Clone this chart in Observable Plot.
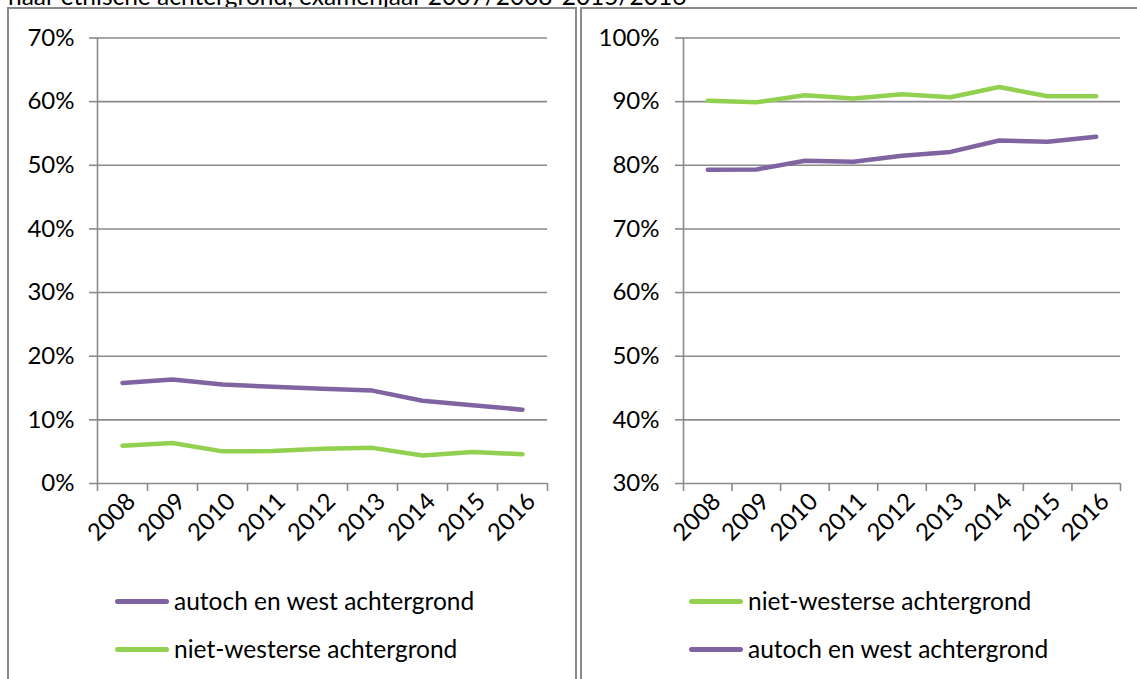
<!DOCTYPE html>
<html><head><meta charset="utf-8">
<script src="https://cdn.jsdelivr.net/npm/d3@7"></script>
<script src="https://cdn.jsdelivr.net/npm/@observablehq/plot@0.6"></script>
<style>
body{margin:0;background:#fff;font-family:Lato,sans-serif;}
#root{position:relative;width:1137px;height:679px;overflow:hidden;background:#fff;}
.box{position:absolute;border:2px solid #8a8a8a;box-sizing:border-box;}
.title{position:absolute;left:8px;top:-16px;font-size:24.5px;line-height:24px;white-space:nowrap;color:#000;}
.panel{position:absolute;top:0;}
.leg{position:absolute;font-size:24.5px;line-height:24px;display:flex;align-items:center;white-space:nowrap;color:#000;}
.sw{display:inline-block;width:54px;height:5px;border-radius:3px;margin-right:5px;}
</style></head><body>
<div id="root">
  <div class="title">naar etnische achtergrond, examenjaar 2007/2008-2015/2016</div>
  <div class="box" style="left:7px;top:7px;width:570px;height:700px;"></div>
  <div class="box" style="left:580px;top:7px;width:600px;height:700px;"></div>
  <div id="p1" class="panel" style="left:0px;width:575px;"></div>
  <div id="p2" class="panel" style="left:575px;width:562px;"></div>
</div>
<script>
const years = ["2008","2009","2010","2011","2012","2013","2014","2015","2016"];
const seriesNames = ["autoch en west achtergrond","niet-westerse achtergrond"];
// left panel (percent)
const leftPurple = [15.8,16.35,15.55,15.2,14.9,14.6,13.0,12.3,11.6];
const leftGreen  = [5.95,6.35,5.05,5.1,5.45,5.6,4.4,4.95,4.6];
const leftTicks  = [0,10,20,30,40,50,60,70];
// right panel (percent)
const rightGreen  = [90.15,89.9,91.0,90.5,91.15,90.7,92.3,90.85,90.85];
const rightPurple = [79.3,79.35,80.7,80.55,81.5,82.1,83.9,83.7,84.5];
const rightTicks  = [30,40,50,60,70,80,90,100];

const PURPLE = "#8064A2", GREEN = "#92D050", GRID = "#8a8a8a";

function rows(vals){ return vals.map((v,i)=>({x:i+0.5, y:v})); }
const boundaries = d3.range(0, years.length+1);
const centers = years.map((_,i)=>i+0.5);

function panel(opts){
  const {width, marginLeft, marginRight, ticks, series, tickPadding} = opts;
  return Plot.plot({
    width, height:560, marginLeft, marginRight, marginTop:37.5, marginBottom:77,
    style:{fontFamily:"Lato, sans-serif", fontSize:"24px", background:"transparent", overflow:"visible", color:"#000"},
    x:{type:"linear", domain:[0, years.length], axis:null},
    y:{type:"linear", domain:[ticks[0], ticks[ticks.length-1]], axis:null},
    marks:[
      Plot.gridY(ticks, {stroke:GRID, strokeOpacity:1, strokeWidth:1.6}),
      Plot.axisY(ticks, {label:null, tickSize:8, tickPadding, tickFormat:d=>d+"%", stroke:GRID, strokeWidth:1.6, fill:"#000", strokeOpacity:1}),
      Plot.ruleX([0], {stroke:GRID, strokeWidth:1.6}),
      Plot.axisX(boundaries, {label:null, tickSize:8, tickFormat:()=>"", stroke:GRID, strokeWidth:1.6, strokeOpacity:1}),
      Plot.axisX(centers, {label:null, tickSize:0, tickPadding:14, dx:9, tickRotate:-45, tickFormat:d=>years[Math.floor(d)], fill:"#000"}),
      ...series.map(s=>Plot.line(rows(s.values), {x:"x", y:"y", stroke:s.color, strokeWidth:4.5, strokeLinecap:"round", strokeLinejoin:"round"}))
    ]
  });
}

document.getElementById("p1").append(panel({
  width:575, marginLeft:97, marginRight:28, ticks:leftTicks, tickPadding:15,
  series:[{values:leftPurple,color:PURPLE},{values:leftGreen,color:GREEN}]
}));
document.getElementById("p2").append(panel({
  width:562, marginLeft:108, marginRight:17, ticks:rightTicks, tickPadding:16,
  series:[{values:rightGreen,color:GREEN},{values:rightPurple,color:PURPLE}]
}));

const legends = [
  {left:115, top:589, name:seriesNames[0], color:PURPLE},
  {left:115, top:637, name:seriesNames[1], color:GREEN},
  {left:689, top:589, name:seriesNames[1], color:GREEN},
  {left:689, top:637, name:seriesNames[0], color:PURPLE}
];
const root = document.getElementById("root");
legends.forEach(l=>{
  const d = document.createElement("div");
  d.className="leg"; d.style.left=l.left+"px"; d.style.top=l.top+"px";
  const sw = document.createElement("span"); sw.className="sw"; sw.style.background=l.color;
  const t = document.createElement("span"); t.textContent=l.name;
  d.append(sw,t); root.append(d);
});
</script>
</body></html>
